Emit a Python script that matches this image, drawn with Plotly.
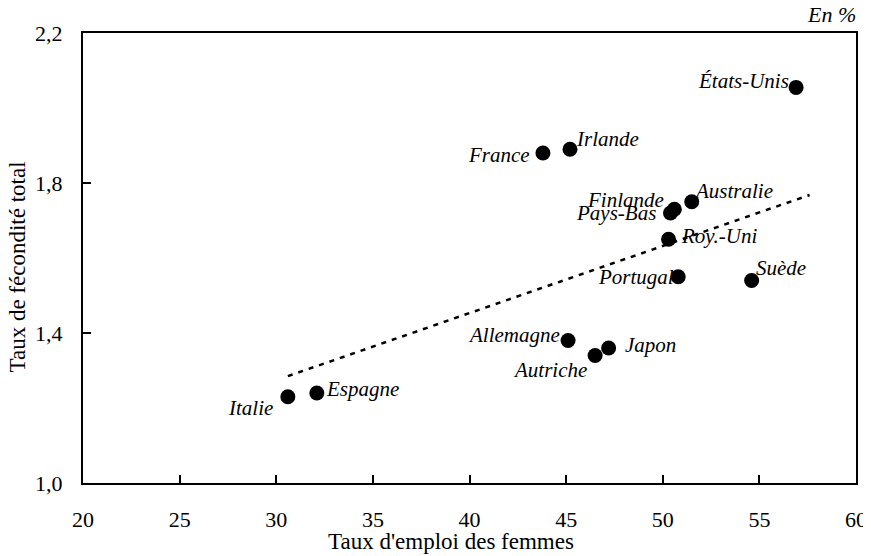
import plotly.graph_objects as go

countries = ["Italie", "Espagne", "France", "Irlande", "États-Unis", "Australie",
             "Finlande", "Pays-Bas", "Roy.-Uni", "Portugal", "Suède",
             "Allemagne", "Autriche", "Japon"]
emploi = [30.6, 32.1, 43.8, 45.2, 56.9, 51.5, 50.6, 50.4, 50.3, 50.8, 54.6, 45.1, 46.5, 47.2]
fecondite = [1.23, 1.24, 1.88, 1.89, 2.055, 1.75, 1.73, 1.72, 1.65, 1.55, 1.54, 1.38, 1.34, 1.36]

trend_x = [30.6, 57.6]
trend_y = [1.285, 1.768]

x_ticks = [20, 25, 30, 35, 40, 45, 50, 55, 60]
y_ticks = [1.0, 1.4, 1.8, 2.2]
y_ticklabels = ["1,0", "1,4", "1,8", "2,2"]

# label placement: (xanchor, xshift, yshift)
label_pos = {
    "Italie": ("right", -13, -11),
    "Espagne": ("left", 7, 4),
    "France": ("right", -11, -2),
    "Irlande": ("left", 4, 10),
    "États-Unis": ("right", -5, 6),
    "Australie": ("left", 0, 11),
    "Finlande": ("right", -8, 9),
    "Pays-Bas": ("right", -12, 0),
    "Roy.-Uni": ("left", 10, 3),
    "Portugal": ("right", -2, 0),
    "Suède": ("left", 2, 13),
    "Allemagne": ("right", -6, 6),
    "Autriche": ("right", -6, -14),
    "Japon": ("left", 14, 3),
}

FONT = "Liberation Serif"

fig = go.Figure()
fig.add_trace(go.Scatter(
    x=trend_x, y=trend_y, mode="lines",
    line=dict(color="black", width=2.5, dash="5px,6px"),
    hoverinfo="skip", showlegend=False))
fig.add_trace(go.Scatter(
    x=emploi, y=fecondite, mode="markers",
    marker=dict(color="black", size=15, symbol="circle"),
    text=countries, showlegend=False))

for c, xv, yv in zip(countries, emploi, fecondite):
    xa, xs, ys = label_pos[c]
    fig.add_annotation(x=xv, y=yv, text="<i>" + c + "</i>", showarrow=False,
                       xanchor=xa, yanchor="middle", xshift=xs, yshift=ys,
                       font=dict(family=FONT, size=21, color="black"))

fig.add_annotation(xref="paper", yref="paper", x=1.003, y=1.04, text="<i>En %</i>",
                   showarrow=False, xanchor="right", yanchor="middle",
                   font=dict(family=FONT, size=22, color="black"))
fig.add_annotation(xref="paper", yref="paper", x=0.476, y=-0.129,
                   text="Taux d'emploi des femmes", showarrow=False,
                   xanchor="center", yanchor="middle",
                   font=dict(family=FONT, size=23, color="black"))
fig.add_annotation(xref="paper", yref="paper", x=-0.086, y=0.48,
                   text="Taux de fécondité total", showarrow=False, textangle=-90,
                   xanchor="center", yanchor="middle",
                   font=dict(family=FONT, size=23, color="black"))

fig.update_layout(
    width=871, height=556,
    margin=dict(l=75, r=23, t=25, b=81, autoexpand=False),
    paper_bgcolor="white", plot_bgcolor="white",
    font=dict(family=FONT, size=22, color="black"),
    showlegend=False,
)
fig.update_xaxes(range=[20, 60], tickvals=x_ticks, showgrid=False, zeroline=False,
                 showline=True, linecolor="black", linewidth=2, mirror=True,
                 ticks="inside", ticklen=8, tickwidth=2, tickcolor="black",
                 automargin=False,
                 ticklabelstandoff=16, tickfont=dict(family=FONT, size=22))
fig.update_yaxes(range=[1.0, 2.2], tickvals=y_ticks, ticktext=y_ticklabels,
                 showgrid=False, zeroline=False,
                 showline=True, linecolor="black", linewidth=2, mirror=True,
                 ticks="inside", ticklen=8, tickwidth=2, tickcolor="black",
                 automargin=False,
                 ticklabelstandoff=14, tickfont=dict(family=FONT, size=22))

fig.write_html("out.html")
